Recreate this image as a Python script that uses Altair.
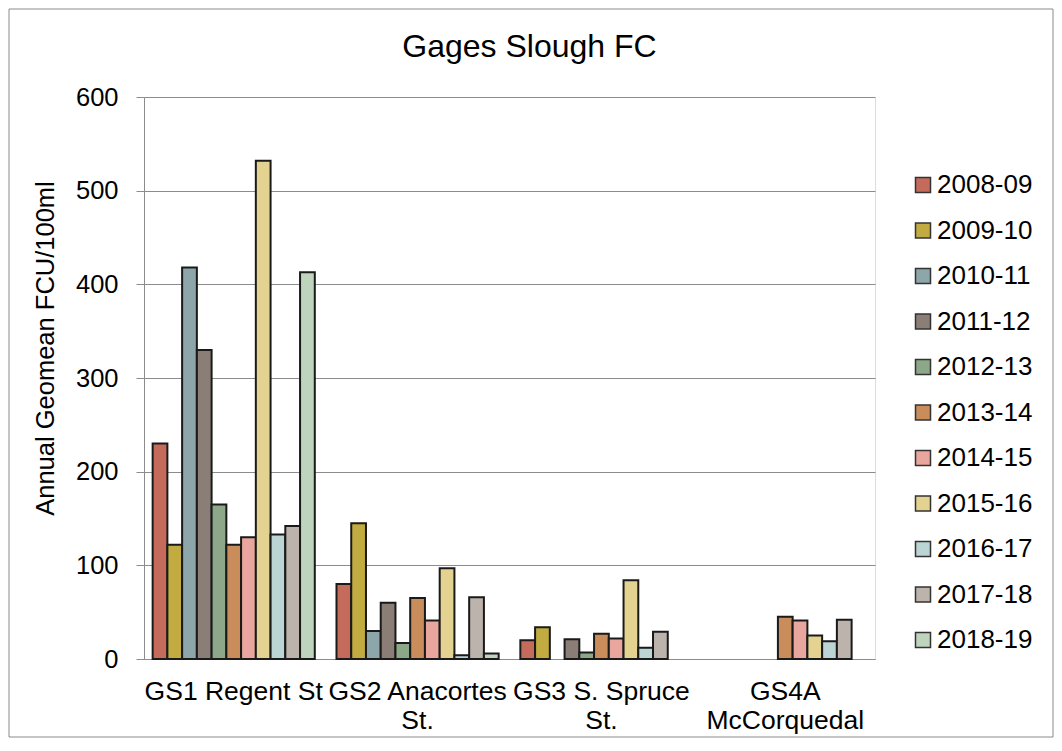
import json
import altair as alt
import pandas as pd

FONT = "Liberation Sans"

sites = ["GS1 Regent St", "GS2 Anacortes St.", "GS3 S. Spruce St.", "GS4A McCorquedal"]
site_label_lines = [["GS1 Regent St"], ["GS2 Anacortes", "St."], ["GS3 S. Spruce", "St."], ["GS4A", "McCorquedal"]]

seasons = ["2008-09", "2009-10", "2010-11", "2011-12", "2012-13", "2013-14",
           "2014-15", "2015-16", "2016-17", "2017-18", "2018-19"]
season_colors = ["#C56B5C", "#C2AB40", "#8CA6AA", "#8B7E76", "#8CA889", "#C98D5B",
                 "#E8A69E", "#E4D390", "#BBD4D4", "#BCB3AC", "#BED4BC"]

# annual geomean values per site, one per season (None = no bar)
gs1_regent = [230, 122, 418, 330, 165, 122, 130, 532, 133, 142, 413]
gs2_anacortes = [80, 145, 30, 60, 17, 65, 41, 97, 4, 66, 6]
gs3_spruce = [20, 34, None, 21, 7, 27, 22, 84, 12, 29, None]
gs4a_mccorquedal = [None, None, None, None, None, 45, 41, 25, 19, 42, None]

y_ticks = [0, 100, 200, 300, 400, 500, 600]

rows = []
for site, vals in zip(sites, [gs1_regent, gs2_anacortes, gs3_spruce, gs4a_mccorquedal]):
    for s, v in zip(seasons, vals):
        if v is not None:
            rows.append({"site": site, "season": s, "value": v})
df = pd.DataFrame(rows)

label_expr = ""
for site, lines in zip(sites, site_label_lines):
    label_expr += f"datum.value === {json.dumps(site)} ? {json.dumps(lines)} : "
label_expr += "datum.label"

GRID = "#8c8c8c"

bars = alt.Chart(df).mark_bar(stroke="#1a1a1a", strokeWidth=2).encode(
    x=alt.X(
        "site:N",
        sort=sites,
        scale=alt.Scale(domain=sites, paddingInner=0.118, paddingOuter=0.047),
        axis=alt.Axis(
            title=None, labelAngle=0, ticks=False, tickSize=0,
            domainColor=GRID, domainWidth=1,
            labelFont=FONT, labelFontSize=26.5, labelColor="black",
            labelPadding=19, labelLineHeight=29, labelBaseline="top",
            labelExpr=label_expr, labelOverlap=False, labelLimit=400,
        ),
    ),
    xOffset=alt.XOffset("season:N", sort=seasons,
                        scale=alt.Scale(domain=seasons, paddingInner=0, paddingOuter=0)),
    y=alt.Y(
        "value:Q",
        scale=alt.Scale(domain=[0, 600], nice=False),
        axis=alt.Axis(
            values=y_ticks, title="Annual Geomean FCU/100ml",
            titleFont=FONT, titleFontSize=25.5, titleFontWeight="normal", titleColor="black",
            titleAngle=270, titleX=-91, titleY=251, titleBaseline="alphabetic", titleAlign="center",
            labelFont=FONT, labelFontSize=25.5, labelColor="black", labelPadding=18,
            tickSize=8, tickColor=GRID, domainColor=GRID,
            grid=True, gridColor=GRID, gridWidth=1,
        ),
    ),
    color=alt.Color(
        "season:N",
        sort=seasons,
        scale=alt.Scale(domain=seasons, range=season_colors),
        legend=alt.Legend(
            title=None, orient="none", legendX=766, legendY=75,
            labelFont=FONT, labelFontSize=26, labelColor="black", labelLimit=300,
            symbolType="square", symbolSize=225, symbolStrokeColor="#333333",
            symbolStrokeWidth=1.5, symbolOpacity=1, rowPadding=19.5, labelOffset=1, padding=0,
        ),
    ),
)

border = alt.Chart(alt.Data(values=[{"frame": 1}])).mark_rect(
    fill="transparent", stroke="#8a8a8a", strokeWidth=1
).encode(
    x=alt.value(-135), x2=alt.value(909), y=alt.value(-88), y2=alt.value(640)
)

chart = alt.layer(border, bars).properties(
    width=731,
    height=562,
    padding={"left": 136, "top": 89, "right": 179, "bottom": 79},
    autosize=alt.AutoSizeParams(type="none"),
    title=alt.Title(
        "Gages Slough FC", font=FONT, fontSize=32, fontWeight="normal", color="black",
        anchor="middle", frame="group", dx=20, offset=-80, baseline="alphabetic",
    ),
).configure_view(stroke=None).configure(background="white")

chart.save("out.html", embed_options={"renderer": "svg", "actions": False})
